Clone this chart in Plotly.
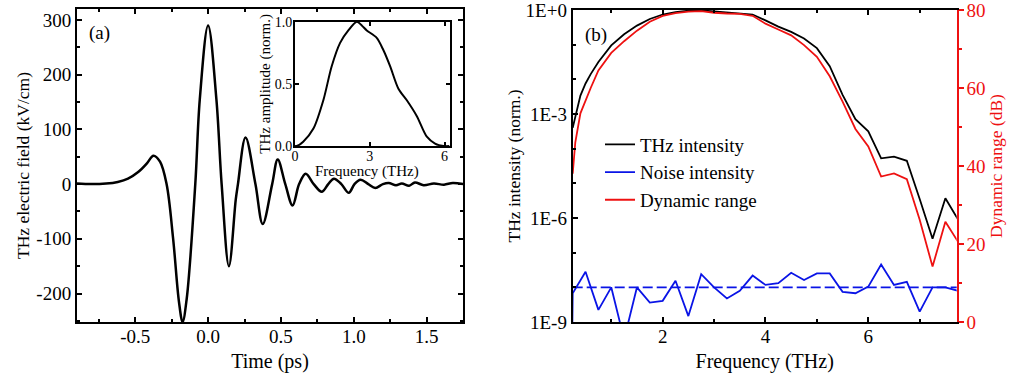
import plotly.graph_objects as go

# ---------------- data ----------------
time_ps = [-0.9, -0.8, -0.7, -0.62, -0.55, -0.48, -0.42, -0.375, -0.33, -0.285, -0.24, -0.2, -0.175,
           -0.147, -0.088, -0.057, 0.0, 0.057, 0.093, 0.143, 0.19, 0.205, 0.257, 0.325, 0.375, 0.44,
           0.478, 0.53, 0.58, 0.625, 0.67, 0.725, 0.78, 0.825, 0.864, 0.915, 0.966, 1.005, 1.046,
           1.1, 1.148, 1.2, 1.24, 1.29, 1.33, 1.38, 1.42, 1.48, 1.55, 1.62, 1.68, 1.75]
field_kv_cm = [1, 0, 1, 4, 10, 22, 38, 52, 41, 0, -100, -215, -252,
               -210, 0, 155, 290, 155, 0, -150, -28, 0, 85, 0, -73, 0,
               45, 0, -39, 0, 19, 0, -14, 0, 10, 0, -16, 0, 8,
               0, -7, 0, 2, -2, 1, -3, 3, -2, 1, -1, 2, 0]
time_ticks = [-0.5, 0.0, 0.5, 1.0, 1.5]
time_ticktext = ["-0.5", "0.0", "0.5", "1.0", "1.5"]
field_ticks = [-200, -100, 0, 100, 200, 300]
field_ticktext = ["-200", "-100", "0", "100", "200", "300"]

inset_freq = [0.0, 0.07, 0.33, 0.74, 1.14, 1.47, 1.81, 2.14, 2.48, 2.68, 2.88, 3.28, 3.55, 3.82,
              4.15, 4.48, 4.89, 5.29, 5.62, 5.96, 6.2]
inset_amp = [0.0, 0.0, 0.035, 0.14, 0.37, 0.64, 0.83, 0.93, 1.0, 0.97, 0.93, 0.87, 0.77, 0.64,
             0.46, 0.37, 0.24, 0.075, 0.02, 0.0, 0.0]

freq_thz = [0.25, 0.3, 0.4, 0.5, 0.6, 0.75, 1.0, 1.25, 1.5, 1.75, 2.0, 2.25, 2.5, 2.75, 3.0, 3.25,
            3.5, 3.75, 4.0, 4.25, 4.5, 4.75, 5.0, 5.25, 5.5, 5.75, 6.0, 6.25, 6.5, 6.75, 7.0, 7.25,
            7.5, 7.75]
thz_log10 = [-3.4, -3.08, -2.47, -2.12, -1.85, -1.5, -1.02, -0.7, -0.45, -0.26, -0.13, -0.06, -0.02,
             -0.01, -0.04, -0.06, -0.08, -0.13, -0.3, -0.48, -0.63, -0.82, -1.1, -1.62, -2.45, -3.15,
             -3.5, -4.28, -4.23, -4.35, -5.45, -6.6, -5.43, -6.05]
dr_db = [38, 46, 53.5, 57, 60, 64.5, 69, 72, 74.7, 77, 78.5, 79.2, 79.6, 79.7, 79.3, 79.1,
         79.0, 78.5, 76.5, 75, 73.5, 71, 68, 63, 56.5, 49.5, 45, 37.3, 38.1, 36.6, 26.2, 14.2,
         25.7, 20.5]

noise_freq = [0.24, 0.25, 0.5, 0.75, 1.0, 1.25, 1.5, 1.75, 2.0, 2.25, 2.5, 2.75, 3.0, 3.25, 3.5,
              3.75, 4.0, 4.25, 4.5, 4.75, 5.0, 5.25, 5.5, 5.75, 6.0, 6.25, 6.5, 6.75, 7.0, 7.25,
              7.5, 7.75]
noise_log10 = [-9.5, -8.17, -7.55, -8.65, -8.0, -9.5, -8.0, -8.44, -8.39, -7.81, -8.83, -7.62, -8.0,
               -8.32, -8.10, -7.66, -7.93, -7.88, -7.58, -7.79, -7.60, -7.60, -8.13, -8.17, -7.98,
               -7.34, -7.93, -7.84, -8.70, -8.0, -8.0, -8.1]
noise_floor_x = [0.25, 7.75]
noise_floor = [1e-8, 1e-8]

left_ticks = [1e0, 1e-3, 1e-6, 1e-9]
left_ticktext = ["1E+0", "1E-3", "1E-6", "1E-9"]

# ---------------- figure ----------------
FONT = "Liberation Serif"
RED = "#ee1111"
BLUE = "#0a14e6"
TICK = 19
HTITLE = 20
VTITLE = 17.5

fig = go.Figure()

fig.add_trace(go.Scatter(x=time_ps, y=field_kv_cm, mode="lines",
                         line=dict(color="black", width=2.5, shape="spline", smoothing=1.0),
                         xaxis="x", yaxis="y", showlegend=False))
fig.add_trace(go.Scatter(x=inset_freq, y=inset_amp, mode="lines",
                         line=dict(color="black", width=2, shape="spline", smoothing=0.8),
                         xaxis="x2", yaxis="y2", showlegend=False))

fig.add_trace(go.Scatter(x=freq_thz, y=[10 ** v for v in thz_log10], mode="lines", name="THz intensity",
                         line=dict(color="black", width=1.8), xaxis="x3", yaxis="y3", legendgroup="a"))
fig.add_trace(go.Scatter(x=noise_freq, y=[10 ** v for v in noise_log10], mode="lines", name="Noise intensity",
                         line=dict(color=BLUE, width=1.8), xaxis="x3", yaxis="y3", legendgroup="b"))
fig.add_trace(go.Scatter(x=noise_floor_x, y=noise_floor, mode="lines", showlegend=False,
                         line=dict(color=BLUE, width=1.6, dash="10px,4px"), xaxis="x3", yaxis="y3"))
fig.add_trace(go.Scatter(x=freq_thz, y=dr_db, mode="lines", name="Dynamic range",
                         line=dict(color=RED, width=1.8), xaxis="x3", yaxis="y4", legendgroup="c"))

W, H = 1011, 383
def px(x):
    return x / W
def py(y):
    return 1 - y / H

axis_common = dict(showline=True, linecolor="black", linewidth=2, ticks="inside", ticklen=5, tickwidth=1.5,
                   tickcolor="black", showgrid=False, zeroline=False, mirror="ticks", automargin=False,
                   ticklabeloverflow="allow",
                   tickfont=dict(family=FONT, size=TICK, color="black"),
                   title_font=dict(family=FONT, size=HTITLE, color="black"))

fig.update_layout(
    width=W, height=H, margin=dict(l=0, r=0, t=0, b=0, autoexpand=False),
    paper_bgcolor="white", plot_bgcolor="white",
    font=dict(family=FONT, color="black"),
    xaxis=dict(axis_common, domain=[px(77), px(463)], range=[-0.9, 1.75], anchor="y",
               tickvals=time_ticks, ticktext=time_ticktext, ticklabelstandoff=-4,
               minor=dict(dtick=0.25, tick0=0, ticklen=3, ticks="inside", tickcolor="black"),
               title=dict(text="Time (ps)", standoff=8)),
    yaxis=dict(axis_common, domain=[py(322), py(9)], range=[-252, 320], anchor="x",
               tickvals=field_ticks, ticktext=field_ticktext,
               minor=dict(dtick=50, tick0=0, ticklen=3, ticks="inside", tickcolor="black"),
               title=dict(text="THz electric field (kV/cm)", standoff=2,
                          font=dict(family=FONT, size=VTITLE, color="black"))),
    xaxis2=dict(axis_common, domain=[px(295), px(449.5)], range=[0, 6.2], anchor="y2",
                tickvals=[0, 3, 6], ticklen=4, ticklabelstandoff=-4,
                tickfont=dict(family=FONT, size=14, color="black")),
    yaxis2=dict(axis_common, domain=[py(146), py(21.7)], range=[0, 1], anchor="x2",
                tickvals=[0, 0.5, 1.0], tickformat=".1f", ticklen=4, ticklabelstandoff=-2,
                tickfont=dict(family=FONT, size=14, color="black"),
                title=dict(text="THz amplitude (norm.)", standoff=0,
                           font=dict(family=FONT, size=15, color="black"))),
    xaxis3=dict(axis_common, domain=[px(572.7), px(956.7)], range=[0.25, 7.72], anchor="y3",
                tickvals=[2, 4, 6], ticklabelstandoff=-4,
                minor=dict(dtick=1, tick0=0, ticklen=3, ticks="inside", tickcolor="black"),
                title=dict(text="Frequency (THz)", standoff=8)),
    yaxis3=dict(axis_common, domain=[py(322), py(10)], type="log", range=[-9, 0], anchor="x3",
                mirror=False, tickvals=left_ticks, ticktext=left_ticktext,
                minor=dict(tickvals=[1e-1, 1e-2, 1e-4, 1e-5, 1e-7, 1e-8], ticklen=3, ticks="inside",
                           tickcolor="black"),
                title=dict(text="THz intensity (norm.)", standoff=0,
                           font=dict(family=FONT, size=VTITLE, color="black"))),
    yaxis4=dict(axis_common, overlaying="y3", side="right", anchor="x3", range=[0, 80], mirror=False,
                linecolor=RED, tickcolor=RED, ticks="outside", ticklen=5, ticklabelstandoff=-1,
                tickvals=[0, 20, 40, 60, 80],
                minor=dict(dtick=10, tick0=0, ticklen=3, ticks="outside", tickcolor=RED),
                tickfont=dict(family=FONT, size=TICK, color=RED),
                title=dict(text="Dynamic range (dB)", standoff=1,
                           font=dict(family=FONT, size=VTITLE, color=RED))),
    legend=dict(x=px(600), y=py(125.5), xanchor="left", yanchor="top", bgcolor="rgba(0,0,0,0)",
                font=dict(family=FONT, size=19, color="black"), tracegroupgap=0, itemwidth=30),
    annotations=[
        dict(text="(a)", x=px(99), y=py(33), xref="paper", yref="paper", showarrow=False,
             xanchor="center", yanchor="middle",
             font=dict(family=FONT, size=19, color="black")),
        dict(text="(b)", x=px(596), y=py(35), xref="paper", yref="paper", showarrow=False,
             xanchor="center", yanchor="middle",
             font=dict(family=FONT, size=19, color="black")),
        dict(text="Frequency (THz)", x=px(367), y=py(171), xref="paper", yref="paper", showarrow=False,
             xanchor="center", yanchor="middle",
             font=dict(family=FONT, size=15, color="black")),
    ],
)

fig.write_html("out.html", config={"displayModeBar": False},
               post_script="document.body.style.margin='0px';")
